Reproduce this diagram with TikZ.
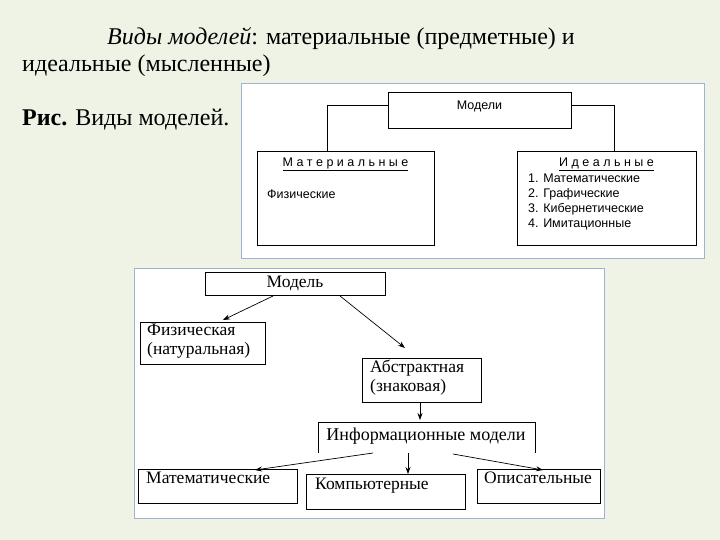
\documentclass[tikz,border=0pt]{standalone}
\usepackage{fontspec}
\setmainfont{Liberation Serif}
\newfontfamily\arialfont{Liberation Sans}
\usetikzlibrary{positioning,arrows.meta}
\definecolor{bgcol}{HTML}{EEF3E6}
\definecolor{framecol}{HTML}{9DB3CF}

\tikzset{
  panel/.style={draw=framecol, line width=1pt, fill=white},
  sbox/.style={draw, line width=0.8pt, inner sep=0pt},
  btext/.style={font=\fontsize{17.5}{18.5}\selectfont, anchor=north west, inner sep=0pt},
  stext/.style={font=\arialfont\fontsize{12.5}{15}\selectfont, anchor=north west, inner sep=0pt, align=left},
  link/.style={-{Stealth[length=7pt, width=5pt]}, line width=0.7pt}
}

\begin{document}
\begin{tikzpicture}[x=1pt, y=-1pt]
        \useasboundingbox[fill=bgcol] (0,0) rectangle (720,540);

        % heading
        \node[anchor=base west, inner sep=0pt, font=\fontsize{24}{26}\selectfont] (head1) at (107,45) {\textit{Виды моделей}: материальные (предметные) и};
        \node[anchor=base west, inner sep=0pt, font=\fontsize{24}{26}\selectfont] (head2) at (22,72) {идеальные (мысленные)};
        \node[anchor=base west, inner sep=0pt, font=\fontsize{24}{26}\selectfont] (caption) at (22,126) {\textbf{Рис.} Виды моделей.};

        % top panel
        \draw[panel] (241,84) rectangle (704,258);
        \draw[sbox] (388,92) rectangle (571,128);
        \node[font=\arialfont\fontsize{12.5}{14}\selectfont] (Modeli) at (479.5,106) {Модели};
        \draw[sbox] (257,151) rectangle (434,245);
        \node[font=\arialfont\fontsize{12.5}{14}\selectfont] (Mat) at (345.5,164) {\underline{М\;а\;т\;е\;р\;и\;а\;л\;ь\;н\;ы\;е}};
        \node[stext] (Fiz) at (267,190) {Физические};
        \draw[sbox] (517,151) rectangle (696,245);
        \node[font=\arialfont\fontsize{12.5}{14}\selectfont] (Ideal) at (606.5,164) {\underline{И\;д\;е\;а\;л\;ь\;н\;ы\;е}};
        \node[stext] (IdList) at (528,174) {1. Математические\\2. Графические\\3. Кибернетические\\4. Имитационные};
        \coordinate (ML) at (388,105);
        \coordinate (MR) at (571,105);
        \coordinate (MatTop) at (327,151);
        \coordinate (IdTop) at (614,151);
        \draw[line width=0.8pt] (ML) -| (MatTop);
        \draw[line width=0.8pt] (MR) -| (IdTop);

        % bottom panel
        \draw[panel] (134,268) rectangle (604,518);
        \draw[sbox] (205,272) rectangle (385,295);
        \node[font=\fontsize{17.5}{18.5}\selectfont] (Model) at (295,283) {Модель};
        \draw[sbox] (140,322) rectangle (265,364);
        \node[btext, align=left] (Phys) at (147,324) {Физическая\\(натуральная)};
        \draw[sbox] (362,358) rectangle (481,402);
        \node[btext, align=left] (Abstr) at (370,360) {Абстрактная\\(знаковая)};
        \draw[line width=0.8pt] (318,453) |- (535,422) -- (535,453);
        \node[font=\fontsize{18}{19}\selectfont] (Info) at (426,436) {Информационные модели};
        \draw[sbox] (138,469) rectangle (297,503);
        \node[btext] (Math) at (146,472) {Математические};
        \draw[sbox] (306,474) rectangle (465,509);
        \node[btext] (Comp) at (315,478) {Компьютерные};
        \draw[sbox] (477,469) rectangle (600,503);
        \node[btext] (Descr) at (484,472) {Описательные};

        % arrows
        \coordinate (m1) at (273,296);
        \coordinate (m2) at (340,296);
        \coordinate (a1) at (420,402);
        \coordinate (i1) at (373,453);
        \coordinate (i2) at (408,453);
        \coordinate (i3) at (453,454);
        \draw[link] (m1) -- (223,320);
        \draw[link] (m2) -- (405,348);
        \draw[link] (a1) -- (420,420);
        \draw[link] (i1) -- (255,470);
        \draw[link] (i2) -- (408,474);
        \draw[link] (i3) -- (543,470);
\end{tikzpicture}
\end{document}
